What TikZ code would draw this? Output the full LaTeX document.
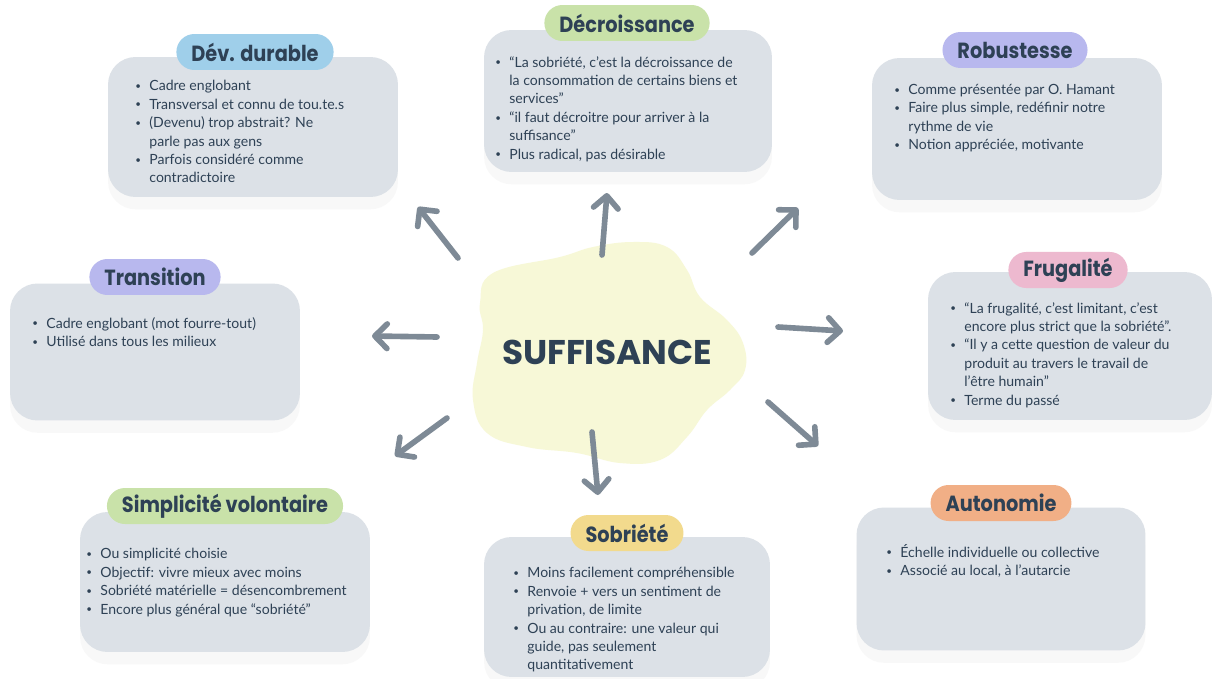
\documentclass[tikz,border=0pt]{standalone}
\usepackage{fontspec}
\setmainfont{Lato}
\newfontfamily\titlefont{Poppins}[FakeStretch=0.88]
\newfontfamily\centrefont{Poppins}
\usetikzlibrary{arrows.meta}
\usetikzlibrary{shadows}

\definecolor{inkblue}{HTML}{2E4155}
\definecolor{cardgray}{HTML}{DCE1E7}
\definecolor{arrowgray}{HTML}{7E8A96}
\definecolor{blobyellow}{HTML}{F7F8D7}
\definecolor{pillblue}{HTML}{9FCFEA}
\definecolor{pillgreen}{HTML}{C9E2A9}
\definecolor{pilllilac}{HTML}{B8B8EE}
\definecolor{pillpink}{HTML}{EDB9CF}
\definecolor{pillyellow}{HTML}{F2DA8D}
\definecolor{pillorange}{HTML}{F1AF86}

\newcommand{\itm}[1]{\makebox[8pt][l]{\raisebox{0.2ex}{\scalebox{0.7}{\textbullet}}}#1}
\newcommand{\cnt}[1]{\hspace*{8pt}#1}

\begin{document}
\begin{tikzpicture}[x=0.02cm, y=-0.02cm, line cap=round, line join=round,
    >={Straight Barb[round,length=7pt,width=14pt]},
    card/.style={fill=cardgray, rounded corners=0.55cm, minimum width=5.8cm, minimum height=2.8cm,
      drop shadow={opacity=0.05, shadow xshift=0pt, shadow yshift=-7pt}},
    pill/.style={fill=#1, rounded corners=0.36cm, minimum height=0.72cm, inner xsep=0.3cm,
      font=\titlefont\bfseries\fontsize{12.5}{14}\selectfont, text=inkblue},
    notes/.style={anchor=north west, inner sep=0pt, align=left,
      font=\fontsize{8}{10.5}\selectfont, text=inkblue},
    link/.style={->, draw=arrowgray, line width=3.2pt}]
  \fill[white] (0,0) rectangle (1214,679);
  \useasboundingbox (0,0) rectangle (1214,679);
  %--- Centre
    \fill[blobyellow] plot[smooth cycle, tension=0.7] coordinates {
      (493,273) (560,257) (593,247) (633,242) (667,247) (687,270) (700,297) (727,320)
      (743,343) (745,370) (730,390) (707,410) (687,437) (660,460) (620,463) (577,453)
      (527,447) (487,433) (473,400) (477,363) (483,330) (480,303)};
    \node[font=\centrefont\bfseries\fontsize{19.5}{22}\selectfont, text=inkblue] (suf) at (607,352) {SUFFISANCE};
  %--- Dev. durable
    \node[card] (dd) at (253,127) {};
    \node[pill=pillblue] (dd-title) at (255,52) {Dév. durable};
    \node[notes] (dd-text) at (135,80) {\itm{Cadre englobant}\\
      \itm{Transversal et connu de tou.te.s}\\
      \itm{(Devenu) trop abstrait? Ne}\\
      \cnt{parle pas aux gens}\\
      \itm{Parfois considéré comme}\\
      \cnt{contradictoire}};
  %--- Decroissance
    \node[card, minimum width=5.76cm, minimum height=2.84cm] (dec) at (628,101) {};
    \node[pill=pillgreen] (dec-title) at (627,23) {Décroissance};
    \node[notes] (dec-text) at (495,56) {\itm{“La sobriété, c’est la décroissance de}\\
      \cnt{la consommation de certains biens et}\\
      \cnt{services”}\\
      \itm{“il faut décroitre pour arriver à la}\\
      \cnt{suffisance”}\\
      \itm{Plus radical, pas désirable}};
  %--- Robustesse
    \node[card, minimum height=2.84cm] (rob) at (1017,129) {};
    \node[pill=pilllilac] (rob-title) at (1015,50) {Robustesse};
    \node[notes] (rob-text) at (894,84) {\itm{Comme présentée par O. Hamant}\\
      \itm{Faire plus simple, redéfinir notre}\\
      \cnt{rythme de vie}\\
      \itm{Notion appréciée, motivante}};
  %--- Transition
    \node[card, minimum height=2.74cm] (tra) at (155,352) {};
    \node[pill=pilllilac] (tra-title) at (155,277) {Transition};
    \node[notes] (tra-text) at (32,317) {\itm{Cadre englobant (mot fourre-tout)}\\
      \itm{Utilisé dans tous les milieux}};
  %--- Frugalite
    \node[card, minimum width=5.68cm, minimum height=2.96cm] (fru) at (1070,346) {};
    \node[pill=pillpink] (fru-title) at (1068,270) {Frugalité};
    \node[notes] (fru-text) at (950,302) {\itm{“La frugalité, c’est limitant, c’est}\\
      \cnt{encore plus strict que la sobriété”.}\\
      \itm{“Il y a cette question de valeur du}\\
      \cnt{produit au travers le travail de}\\
      \cnt{l’être humain”}\\
      \itm{Terme du passé}};
  %--- Simplicite volontaire
    \node[card] (sim) at (225,582) {};
    \node[pill=pillgreen] (sim-title) at (225,506) {Simplicité volontaire};
    \node[notes] (sim-text) at (86,548) {\itm{Ou simplicité choisie}\\
      \itm{Objectif: vivre mieux avec moins}\\
      \itm{Sobriété matérielle = désencombrement}\\
      \itm{Encore plus général que “sobriété”}};
  %--- Sobriete
    \node[card, minimum width=5.72cm] (sob) at (627,607) {};
    \node[pill=pillyellow] (sob-title) at (627,533) {Sobriété};
    \node[notes] (sob-text) at (513,567) {\itm{Moins facilement compréhensible}\\
      \itm{Renvoie + vers un sentiment de}\\
      \cnt{privation, de limite}\\
      \itm{Ou au contraire: une valeur qui}\\
      \cnt{guide, pas seulement}\\
      \cnt{quantitativement}};
  %--- Autonomie
    \node[card, minimum width=5.78cm, minimum height=2.86cm] (aut) at (1001,579) {};
    \node[pill=pillorange] (aut-title) at (1001,503) {Autonomie};
    \node[notes] (aut-text) at (886,544) {\itm{Échelle individuelle ou collective}\\
      \itm{Associé au local, à l’autarcie}};
  %--- Arrows
    \coordinate (dd-from) at (458,258);   \coordinate (dd-to) at (418,207);
    \coordinate (dec-from) at (602,255);  \coordinate (dec-to) at (607,193);
    \coordinate (rob-from) at (752,253);  \coordinate (rob-to) at (798,208);
    \coordinate (tra-from) at (437,337);  \coordinate (tra-to) at (372,336);
    \coordinate (fru-from) at (778,327);  \coordinate (fru-to) at (843,331);
    \coordinate (sim-from) at (447,418);  \coordinate (sim-to) at (395,456);
    \coordinate (sob-from) at (592,432);  \coordinate (sob-to) at (598,495);
    \coordinate (aut-from) at (768,402);  \coordinate (aut-to) at (818,446);
    \foreach \n in {dd,dec,rob,tra,fru,sim,sob,aut}
      \draw[link] (\n-from) -- (\n-to);
\end{tikzpicture}
\end{document}
